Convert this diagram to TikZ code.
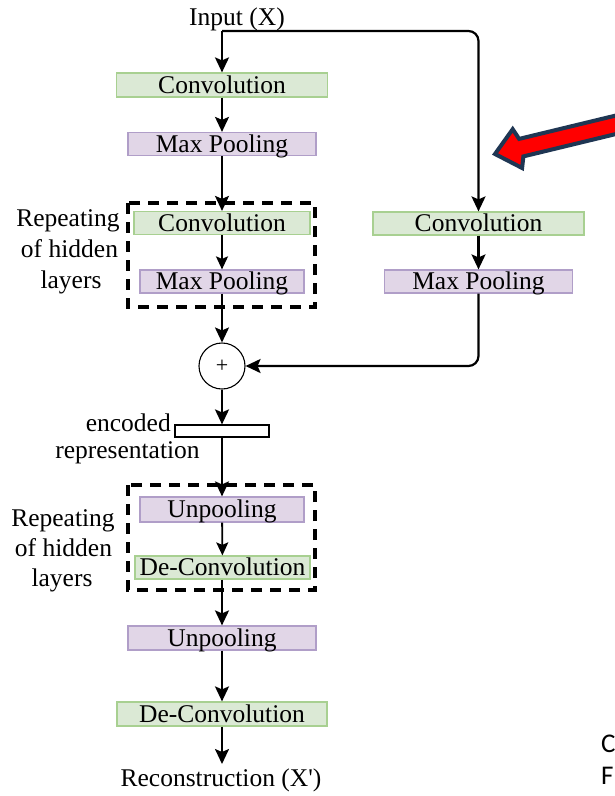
\documentclass[tikz,border=0pt]{standalone}
\usepackage{fontspec}
\setmainfont{Liberation Serif}
\newfontfamily\calib{Carlito}
\usetikzlibrary{arrows.meta}
\definecolor{gfill}{RGB}{219,233,213}
\definecolor{gdraw}{RGB}{168,208,145}
\definecolor{pfill}{RGB}{225,214,231}
\definecolor{pdraw}{RGB}{176,158,200}
\definecolor{navy}{RGB}{31,54,83}
\begin{document}
\begin{tikzpicture}[x=1pt,y=-1pt,
  every node/.style={font=\fontsize{25.5}{31}\selectfont},
  layer/.style={rectangle, inner sep=0pt, minimum height=23pt, text height=19.5pt, text depth=3.5pt, line width=1.2pt},
  conv/.style={layer, fill=gfill, draw=gdraw},
  pool/.style={layer, fill=pfill, draw=pdraw},
  repbox/.style={draw=black, line width=4pt, dash pattern=on 11pt off 8pt},
  flow/.style={line width=2.2pt, -{Stealth[length=15pt,width=14pt,inset=3pt]}},
  thinflow/.style={line width=1.8pt, -{Stealth[length=13pt,width=12pt,inset=2.5pt]}},
  txt/.style={anchor=base, inner sep=0pt},
]
\useasboundingbox (0,0) rectangle (615,796);
\fill[white] (0,0) rectangle (615,796);

% dashed repeat boxes
\draw[repbox] (128,203) rectangle (315,307);
\draw[repbox] (128,485) rectangle (315,590);

% nodes
\node[txt] (in) at (237,25) {Input (X)};
\coordinate (split) at (222,31);
\node[conv, minimum width=211pt, minimum height=24pt] (conv1) at (222,85) {Convolution};
\node[pool, minimum width=188pt] (pool1) at (222,144) {Max Pooling};
\node[conv, minimum width=176pt] (conv2) at (222,223) {Convolution};
\node[pool, minimum width=164pt] (pool2) at (222,281.5) {Max Pooling};
\node[conv, minimum width=211pt] (conv3) at (478.5,223.5) {Convolution};
\node[pool, minimum width=188pt] (pool3) at (478.5,281.5) {Max Pooling};
\node[circle, draw, line width=1.1pt, minimum size=46pt, inner sep=0pt, font=\fontsize{22}{24}\selectfont] (sum) at (222,366) {+};
\node[rectangle, draw, fill=white, line width=1.2pt, minimum width=94pt, minimum height=12pt, inner sep=0pt] (enc) at (222,431) {};
\node[txt, anchor=base east] (encA) at (171,431) {encoded};
\node[txt] (encB) at (127.5,458) {representation};
\node[pool, minimum width=164pt, minimum height=25pt] (unp1) at (222,509.5) {Unpooling};
\node[conv, minimum width=175pt] (dec1) at (222.5,567.5) {De-Convolution};
\node[pool, minimum width=188pt, minimum height=24pt] (unp2) at (222,638) {Unpooling};
\node[conv, minimum width=210pt, minimum height=24pt] (dec2) at (222,714) {De-Convolution};
\node[txt] (out) at (221,786) {Reconstruction (X\textquotesingle)};
\coordinate (outT) at (222,764);

% side labels
\node[txt] (r1a) at (68,226) {Repeating};
\node[txt] (r1b) at (69.5,257) {of hidden};
\node[txt] (r1c) at (71,288) {layers};
\node[txt] (r2a) at (63,526) {Repeating};
\node[txt] (r2b) at (63.5,556) {of hidden};
\node[txt] (r2c) at (62,586) {layers};

% connectors
\draw[flow] (split) -- (conv1);
\draw[line width=2.2pt, rounded corners=10pt, -{Stealth[length=15pt,width=14pt,inset=3pt]}] (split) -| (conv3.north);
\draw[flow] (conv1) -- (pool1);
\draw[flow] (pool1) -- (conv2);
\draw[thinflow] (conv2) -- (pool2);
\draw[flow] (pool2) -- (sum);
\draw[flow] (conv3) -- (pool3);
\draw[line width=2.2pt, rounded corners=10pt, -{Stealth[length=15pt,width=14pt,inset=3pt]}] (pool3.south) |- (sum.east);
\draw[flow] (sum) -- (enc);
\draw[flow] (enc) -- (unp1);
\draw[thinflow] (unp1) -- (dec1);
\draw[flow] (dec1.south -| unp2.north) -- (unp2);
\draw[flow] (unp2) -- (dec2);
\draw[flow] (dec2) -- (outT);

% big red pointer arrow
\begin{scope}
\clip (0,0) rectangle (615,796);
\draw[navy, fill=red, line width=4pt, line join=miter]
  (495,154) -- (512.7,129.2) -- (519.1,138.9) -- (687.3,98.25)
  -- (691.5,115.75) -- (523.4,156.4) -- (522.1,168.0) -- cycle;
\end{scope}

% cut-off text at the right edge
\node[txt, anchor=base west, font=\calib\fontsize{27}{32}\selectfont] (cutC) at (601,752) {C};
\node[txt, anchor=base west, font=\calib\fontsize{27}{32}\selectfont] (cutF) at (601,784) {F};
\end{tikzpicture}
\end{document}
